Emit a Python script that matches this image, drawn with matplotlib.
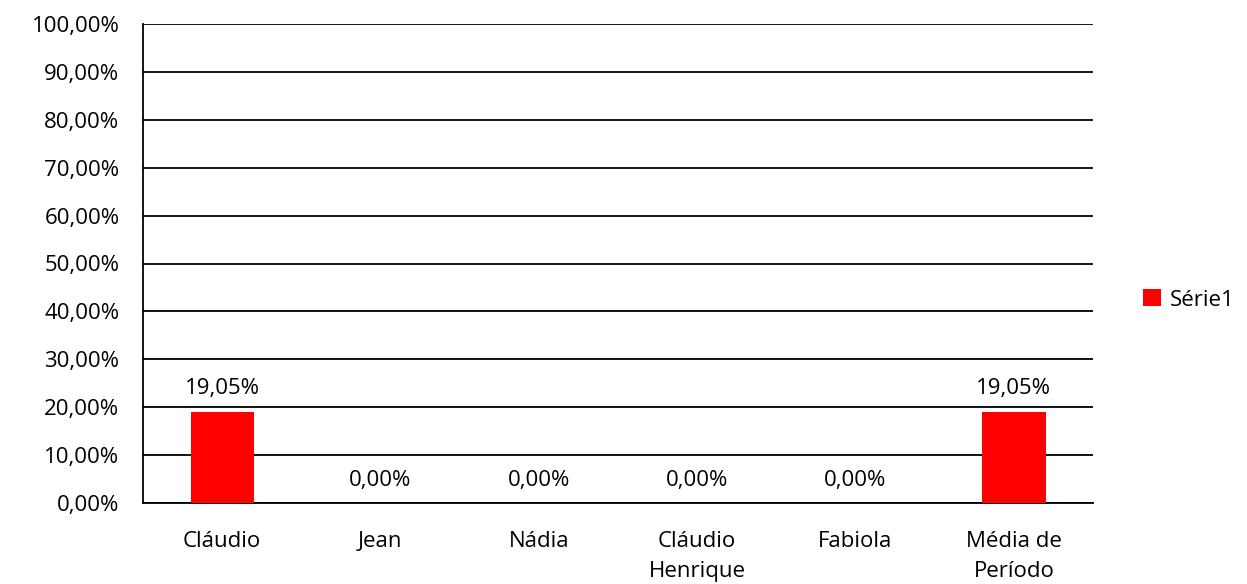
import matplotlib
matplotlib.use('Agg')
import matplotlib.pyplot as plt
import numpy as np

categories = ['Cláudio', 'Jean', 'Nádia', 'Cláudio\nHenrique', 'Fabiola', 'Média de\nPeríodo']
values = [19.05, 0.0, 0.0, 0.0, 0.0, 19.05]
yticks = list(range(0, 101, 10))

plt.rcParams['font.family'] = ['Open Sans', 'DejaVu Sans']
fs = 16

fig = plt.figure(figsize=(12.47, 5.84), dpi=100)
ax = fig.add_axes([143 / 1247, 81 / 584, 950 / 1247, 479 / 584])

x = np.arange(len(categories))
bars = ax.bar(x, values, width=0.4, color='#ff0000', zorder=3, label='Série1')

for xi, v in zip(x, values):
    ax.annotate(f'{v:.2f}%'.replace('.', ','), (xi, v), xytext=(0, 16.5), textcoords='offset points',
                ha='center', va='center', fontsize=fs)

ax.set_xlim(-0.5, len(categories) - 0.5)
ax.set_ylim(0, 100)
ax.set_yticks(yticks)
ax.set_yticklabels([f'{t:.2f}%'.replace('.', ',') for t in yticks], fontsize=fs)
ax.set_xticks(x)
ax.set_xticklabels(categories, fontsize=fs, linespacing=1.6, va='top')
ax.tick_params(length=0)
ax.tick_params(axis='y', pad=17)
ax.tick_params(axis='x', pad=20)
ax.grid(axis='y', color='black', linewidth=1.3, zorder=1)
for side in ['top', 'right']:
    ax.spines[side].set_visible(False)
ax.spines['left'].set_linewidth(1.3)
ax.spines['bottom'].set_linewidth(1.3)

fig.legend(handles=[bars], labels=['Série1'], loc='center left', bbox_to_anchor=(1123 / 1247, 1 - 300 / 584),
           frameon=False, fontsize=fs, handlelength=0.8, handleheight=0.8, handletextpad=0.4)

fig.savefig('out.png', dpi=100)
